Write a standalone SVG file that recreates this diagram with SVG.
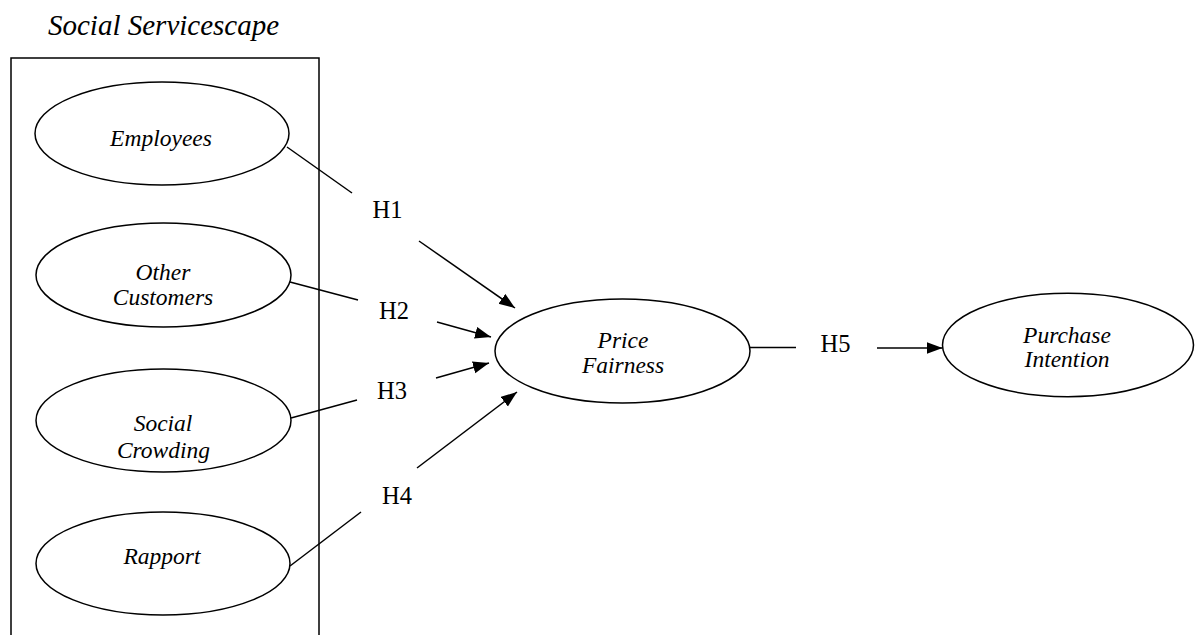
<svg xmlns="http://www.w3.org/2000/svg" width="1195" height="635" viewBox="0 0 1195 635">
<style>
.bg{fill:#ffffff}
.frame{fill:none;stroke:#000;stroke-width:1.5}
.node ellipse{fill:#fff;stroke:#000;stroke-width:1.5}
.lbl{font-family:"Liberation Serif","Times New Roman",serif;font-style:italic;font-size:23.5px;fill:#000;text-anchor:middle}
.title{font-family:"Liberation Serif","Times New Roman",serif;font-style:italic;font-size:29px;fill:#000}
.h{font-family:"Liberation Serif","Times New Roman",serif;font-size:24.5px;fill:#000}
.edge{fill:none;stroke:#000;stroke-width:1.5}
.arr{marker-end:url(#ah)}
</style>
<defs>
<marker id="ah" markerUnits="userSpaceOnUse" markerWidth="17" markerHeight="13" refX="16" refY="6" orient="auto">
<path d="M0,0 L16,6 L0,12 z" fill="#000"/>
</marker>
</defs>
<rect class="bg" x="0" y="0" width="1195" height="635"/>
<g id="group-social-servicescape">
<text class="title" x="48" y="34.5">Social Servicescape</text>
<path class="frame" d="M11,640 V58 H319 V640"/>
</g>
<g id="node-employees" class="node">
<ellipse cx="162" cy="133.5" rx="127" ry="51.5"/>
<text class="lbl" x="161" y="146">Employees</text>
</g>
<g id="node-other-customers" class="node">
<ellipse cx="163.5" cy="275" rx="127.5" ry="52"/>
<text class="lbl" x="163" y="279.5">Other</text>
<text class="lbl" x="163" y="304.5">Customers</text>
</g>
<g id="node-social-crowding" class="node">
<ellipse cx="163.5" cy="420.5" rx="127.5" ry="51.5"/>
<text class="lbl" x="163" y="431">Social</text>
<text class="lbl" x="163.5" y="458">Crowding</text>
</g>
<g id="node-rapport" class="node">
<ellipse cx="163" cy="563.5" rx="127" ry="51.5"/>
<text class="lbl" x="162" y="564">Rapport</text>
</g>
<g id="node-price-fairness" class="node">
<ellipse cx="622.5" cy="351" rx="127.5" ry="52"/>
<text class="lbl" x="623" y="347.5">Price</text>
<text class="lbl" x="623" y="373.3">Fairness</text>
</g>
<g id="node-purchase-intention" class="node">
<ellipse cx="1068" cy="345" rx="125.5" ry="51.7"/>
<text class="lbl" x="1067" y="342.7">Purchase</text>
<text class="lbl" x="1067" y="367.3">Intention</text>
</g>
<g id="connectors">
<line class="edge" x1="287" y1="147" x2="352" y2="193"/>
<line class="edge arr" x1="419" y1="241" x2="515" y2="308"/>
<text class="h" x="372.5" y="218">H1</text>
<line class="edge" x1="290" y1="282" x2="358" y2="300"/>
<line class="edge arr" x1="437" y1="322" x2="491" y2="337"/>
<text class="h" x="379" y="319">H2</text>
<line class="edge" x1="291" y1="418" x2="357" y2="400"/>
<line class="edge arr" x1="436" y1="378" x2="489" y2="363"/>
<text class="h" x="377" y="399">H3</text>
<line class="edge" x1="290" y1="566" x2="361" y2="512"/>
<line class="edge arr" x1="417" y1="468" x2="517" y2="392"/>
<text class="h" x="382" y="504">H4</text>
<line class="edge" x1="750" y1="347.5" x2="796" y2="347.5"/>
<line class="edge arr" x1="877" y1="348" x2="942.5" y2="348"/>
<text class="h" x="820.5" y="351.7">H5</text>
</g>
</svg>
